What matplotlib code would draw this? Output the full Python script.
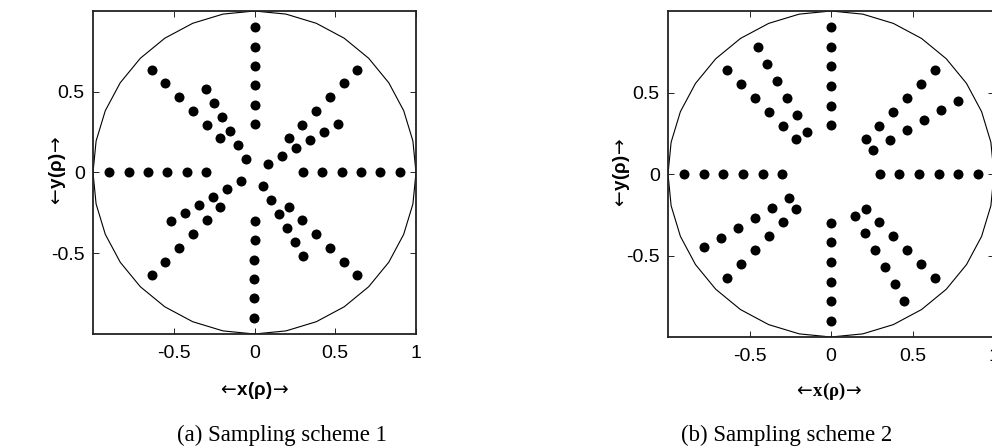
import numpy as np
import matplotlib
matplotlib.use("Agg")
import matplotlib.pyplot as plt

plt.rcParams['axes.unicode_minus'] = False
plt.rcParams['font.family'] = ['Liberation Sans', 'DejaVu Sans']
plt.rcParams['mathtext.fontset'] = 'dejavusans'

# ---- data ----
radii_outer = [0.30, 0.42, 0.54, 0.66, 0.78, 0.90]
radii_inner = [0.10, 0.20, 0.30, 0.40, 0.50, 0.60]
scheme1_outer_angles = [0, 45, 90, 135, 180, 225, 270, 315]
scheme1_inner_angles = [30, 120, 210, 300]
scheme2_angles = [0, 30, 45, 90, 120, 135, 180, 210, 225, 270, 300, 315]
x_ticks = [-0.5, 0, 0.5, 1]
y_ticks = [-0.5, 0, 0.5]
x_tick_labels = ['-0.5', '0', '0.5', '1']
y_tick_labels = ['-0.5', '0', '0.5']
captions = ['(a) Sampling scheme 1', '(b) Sampling scheme 2']
x_label = r'$\leftarrow\!$x(ρ)$\!\rightarrow$'
y_label = r'$\leftarrow\!$y(ρ)$\!\rightarrow$'
unit_radius = 1.0
circle_segments = 32


def spokes(angles, radii):
    xs, ys = [], []
    for a in angles:
        t = np.deg2rad(a)
        for r in radii:
            xs.append(r * np.cos(t))
            ys.append(r * np.sin(t))
    return xs, ys


W, H = 992, 448
fig = plt.figure(figsize=(W / 100, H / 100), dpi=100)

ax1 = fig.add_axes([93 / W, 1 - 334 / H, 323 / W, 323 / H])
ax2 = fig.add_axes([668 / W, 1 - 337 / H, 326 / W, 326 / H])

th = np.linspace(-np.pi / 2, 1.5 * np.pi, circle_segments + 1)

sets = [
    [spokes(scheme1_outer_angles, radii_outer), spokes(scheme1_inner_angles, radii_inner)],
    [spokes(scheme2_angles, radii_outer)],
]

for ax, groups in zip([ax1, ax2], sets):
    ax.plot(unit_radius * np.cos(th), unit_radius * np.sin(th), color='black', lw=0.8)
    for xs, ys in groups:
        ax.plot(xs, ys, 'o', color='black', markersize=7.2, markeredgewidth=0)
    ax.set_xlim(-1, 1)
    ax.set_ylim(-1, 1)
    ax.set_xticks(x_ticks)
    ax.set_xticklabels(x_tick_labels)
    ax.set_yticks(y_ticks)
    ax.set_yticklabels(y_tick_labels)
    ax.tick_params(direction='in', length=4, width=0.6, top=True, right=True,
                   labelsize=14, colors='black')
    ax.tick_params(axis='x', pad=8)
    ax.tick_params(axis='y', pad=6)
    for s in ax.spines.values():
        s.set_linewidth(1.3)
        s.set_color('#222222')

# axis labels
fig.text(253 / W, 1 - 390 / H, x_label, ha='center', va='center', fontsize=13.5,
         fontweight='bold')
fig.text(828 / W, 1 - 391 / H, x_label, ha='center', va='center', fontsize=13.5,
         fontweight='bold', family=['Liberation Serif', 'DejaVu Serif'])
fig.text(57 / W, 1 - 172 / H, y_label, ha='center', va='center', fontsize=13.5,
         fontweight='bold', rotation=90)
fig.text(622 / W, 1 - 174 / H, y_label, ha='center', va='center', fontsize=13.5,
         fontweight='bold', rotation=90)

# captions
fig.text(282 / W, 1 - 435 / H, captions[0], ha='center', va='center', fontsize=16.5,
         family=['Liberation Serif', 'DejaVu Serif'])
fig.text(787 / W, 1 - 435 / H, captions[1], ha='center', va='center', fontsize=16.5,
         family=['Liberation Serif', 'DejaVu Serif'])

fig.savefig('out.png', dpi=100)
